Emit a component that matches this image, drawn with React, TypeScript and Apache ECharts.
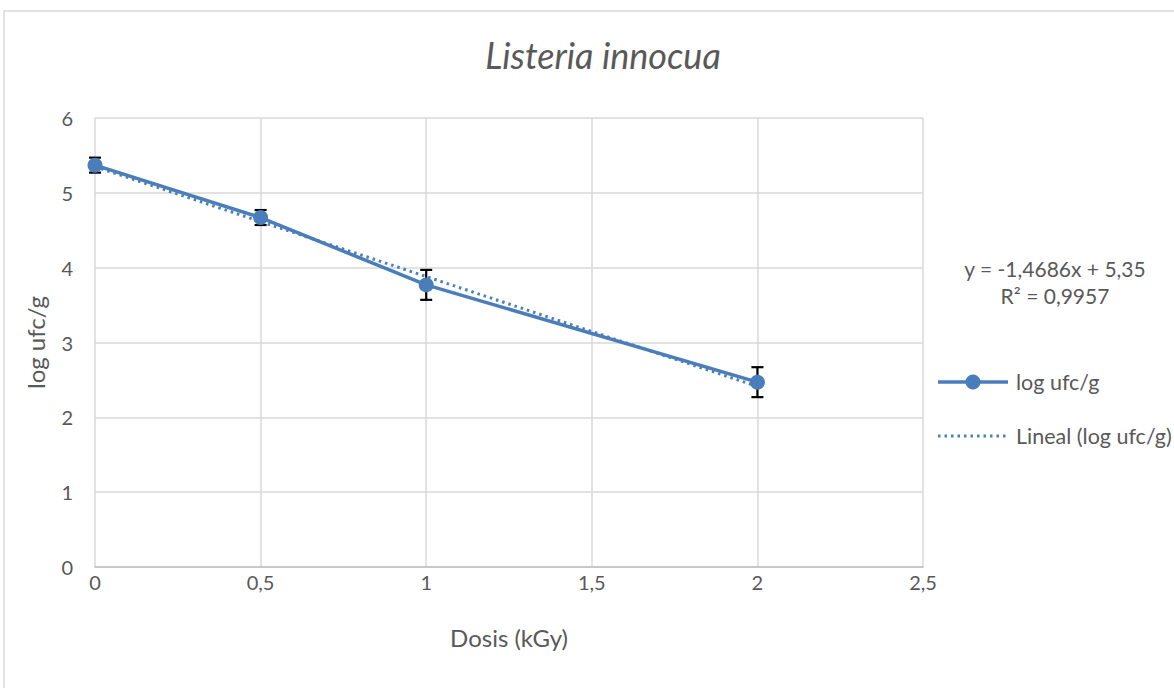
import React, { useEffect, useRef } from "react";
import * as echarts from "echarts";

const doses = [0, 0.5, 1, 2];
const logUfc = [5.37, 4.67, 3.77, 2.47];
const errors = [0.1, 0.1, 0.2, 0.2];
const trendSlope = -1.4686;
const trendIntercept = 5.35;
const xTicks = [0, 0.5, 1, 1.5, 2, 2.5];
const yTicks = [0, 1, 2, 3, 4, 5, 6];

const BLUE = "#4A7EBB";
const FONT = "Lato, 'Open Sans', sans-serif";
const TXT = "#595959";

export default function App() {
  const ref = useRef<HTMLDivElement>(null);
  useEffect(() => {
    document.body.style.margin = "0";
    const chart = echarts.init(ref.current!, null, { renderer: "svg" });
    const pts = doses.map((d, i) => [d, logUfc[i]]);
    const errData = doses.map((d, i) => [d, logUfc[i] - errors[i], logUfc[i] + errors[i]]);
    const trendX = [doses[0], doses[doses.length - 1]];
    const trend = trendX.map((x) => [x, trendSlope * x + trendIntercept]);
    const fmt = (v: number) => String(v).replace(".", ",");
    chart.setOption({
      animation: false,
      backgroundColor: "#fff",
      textStyle: { fontFamily: FONT },
      title: {
        text: "Listeria innocua",
        left: 598,
        top: 32,
        textAlign: "center",
        textStyle: { fontFamily: FONT, fontStyle: "italic", fontWeight: "normal", fontSize: 36, color: TXT },
      },
      grid: { left: 95, right: 1174 - 923, top: 118, bottom: 688 - 567, containLabel: false },
      xAxis: {
        type: "value",
        min: xTicks[0],
        max: xTicks[xTicks.length - 1],
        interval: 0.5,
        name: "Dosis (kGy)",
        nameLocation: "middle",
        nameGap: 58,
        nameTextStyle: { fontFamily: FONT, fontSize: 24, color: TXT },
        axisLine: { show: true, lineStyle: { color: "#bfbfbf", width: 1.5 } },
        axisTick: { show: false },
        axisLabel: { formatter: fmt, fontFamily: FONT, fontSize: 20, color: TXT, margin: 5 },
        splitLine: { show: true, lineStyle: { color: "#d9d9d9", width: 1.5 } },
      },
      yAxis: {
        type: "value",
        min: yTicks[0],
        max: yTicks[yTicks.length - 1],
        interval: 1,
        name: "log ufc/g",
        nameLocation: "middle",
        nameGap: 48,
        nameRotate: 90,
        nameTextStyle: { fontFamily: FONT, fontSize: 24, color: TXT },
        axisLine: { show: false },
        axisTick: { show: false },
        axisLabel: { fontFamily: FONT, fontSize: 20, color: TXT, margin: 22 },
        splitLine: { show: true, lineStyle: { color: "#d9d9d9", width: 1.5 } },
      },
      series: [
        {
          type: "custom",
          data: errData,
          z: 2,
          renderItem: (params: any, api: any) => {
            const x = api.value(0);
            const lo = api.coord([x, api.value(1)]);
            const hi = api.coord([x, api.value(2)]);
            const hw = 6;
            const style = { stroke: "#000", lineWidth: 2.2 };
            return {
              type: "group",
              children: [
                { type: "line", shape: { x1: lo[0], y1: lo[1], x2: hi[0], y2: hi[1] }, style },
                { type: "line", shape: { x1: lo[0] - hw, y1: lo[1], x2: lo[0] + hw, y2: lo[1] }, style },
                { type: "line", shape: { x1: hi[0] - hw, y1: hi[1], x2: hi[0] + hw, y2: hi[1] }, style },
              ],
            };
          },
        },
        {
          name: "Lineal (log ufc/g)",
          type: "line",
          data: trend,
          symbol: "none",
          lineStyle: { color: BLUE, width: 3, type: [2.5, 4] },
          z: 3,
        },
        {
          name: "log ufc/g",
          type: "line",
          data: pts,
          symbol: "circle",
          symbolSize: 15,
          itemStyle: { color: BLUE },
          lineStyle: { color: BLUE, width: 3.5 },
          z: 4,
        },
      ],
      graphic: [
        { type: "rect", shape: { x: 4, y: 11, width: 1200, height: 720 }, style: { fill: "none", stroke: "#d9d9d9", lineWidth: 1.5 }, z: -1 },
        { type: "text", x: 1055, y: 268, style: { text: "y = -1,4686x + 5,35", fontFamily: FONT, fontSize: 21, fill: TXT, align: "center", verticalAlign: "middle" } },
        { type: "text", x: 1055, y: 295, style: { text: "R² = 0,9957", fontFamily: FONT, fontSize: 21, fill: TXT, align: "center", verticalAlign: "middle" } },
        { type: "line", shape: { x1: 938, y1: 382, x2: 1008, y2: 382 }, style: { stroke: BLUE, lineWidth: 3.5 } },
        { type: "circle", shape: { cx: 973, cy: 382, r: 7.5 }, style: { fill: BLUE } },
        { type: "text", x: 1016, y: 382, style: { text: "log ufc/g", fontFamily: FONT, fontSize: 21.5, fill: TXT, align: "left", verticalAlign: "middle" } },
        { type: "line", shape: { x1: 938, y1: 436, x2: 1008, y2: 436 }, style: { stroke: BLUE, lineWidth: 3, lineDash: [2.5, 4] } },
        { type: "text", x: 1016, y: 436, style: { text: "Lineal (log ufc/g)", fontFamily: FONT, fontSize: 21.5, fill: TXT, align: "left", verticalAlign: "middle" } },
      ],
    });
    return () => chart.dispose();
  }, []);
  return <div ref={ref} style={{ position: "absolute", left: 0, top: 0, width: 1174, height: 688 }} />;
}
